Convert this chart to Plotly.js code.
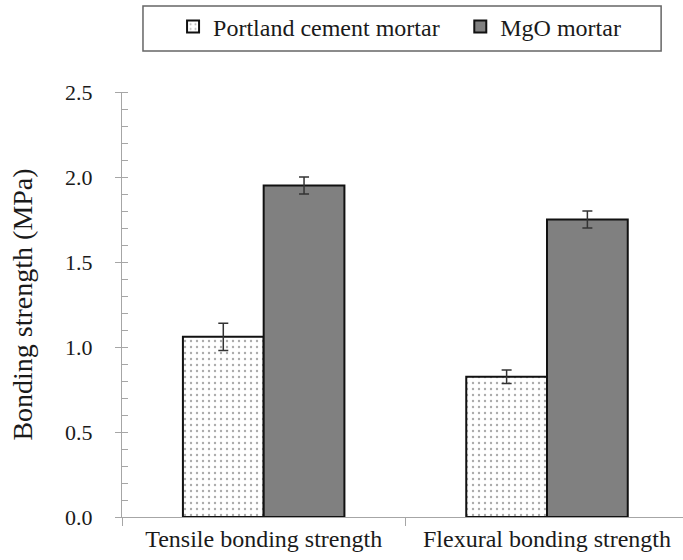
<!DOCTYPE html>
<html>
<head>
<meta charset="utf-8">
<script src="https://cdn.plot.ly/plotly-3.0.1.min.js"></script>
<style>html,body{margin:0;padding:0;background:#fff;}#chart{width:683px;height:560px;}</style>
</head>
<body>
<div id="chart"></div>
<script>
var categories = ["Tensile bonding strength", "Flexural bonding strength"];
var seriesNames = ["Portland cement mortar", "MgO mortar"];
var portlandValues = [1.06, 0.825];
var portlandErrors = [0.08, 0.04];
var mgoValues = [1.95, 1.75];
var mgoErrors = [0.05, 0.05];
var yTickValues = [0, 0.5, 1.0, 1.5, 2.0, 2.5];
var yTickLabels = ["0.0", "0.5", "1.0", "1.5", "2.0", "2.5"];

var FONT = "Liberation Serif";
var TXT = "#1a1a1a";
var AXIS_GRAY = "#a6a6a6";

var traces = [
  {
    type: "bar", name: seriesNames[0], x: categories, y: portlandValues, legend: "legend",
    error_y: {type: "data", array: portlandErrors, visible: true, color: "#333", thickness: 1.5, width: 5},
    marker: {color: "#ffffff", line: {color: "#111", width: 2},
             pattern: {shape: ".", fgcolor: "#ababab", bgcolor: "#ffffff", size: 6, solidity: 0.12}}
  },
  {
    type: "bar", name: seriesNames[1], x: categories, y: mgoValues, legend: "legend2",
    error_y: {type: "data", array: mgoErrors, visible: true, color: "#333", thickness: 1.5, width: 5},
    marker: {color: "#808080", line: {color: "#111", width: 2}}
  },
  {
    type: "scatter", x: categories, y: [null, null], yaxis: "y2", showlegend: false, hoverinfo: "skip"
  }
];

var legendCommon = {orientation: "h", xanchor: "left", y: 1.153, yanchor: "middle",
  font: {family: FONT, size: 24, color: TXT}, borderwidth: 0, bgcolor: "rgba(0,0,0,0)"};

var layout = {
  width: 683, height: 560,
  margin: {l: 122, r: 0, t: 92, b: 43},
  paper_bgcolor: "#fff", plot_bgcolor: "#fff",
  font: {family: FONT, size: 22, color: TXT},
  barmode: "group", bargap: 0.43, bargroupgap: 0,
  showlegend: true,
  legend: Object.assign({}, legendCommon, {x: 0.091}),
  legend2: Object.assign({}, legendCommon, {x: 0.603}),
  shapes: [{type: "rect", xref: "paper", yref: "paper", x0: 0.0374, x1: 0.961, y0: 1.0965, y1: 1.2024,
            line: {color: "#666", width: 1.5}, fillcolor: "rgba(0,0,0,0)", layer: "below"}],
  xaxis: {
    type: "category", range: [-0.5, 1.48], showgrid: false, zeroline: false,
    showline: true, linecolor: AXIS_GRAY, linewidth: 1,
    ticks: "outside", tickson: "boundaries", ticklen: 8, tickcolor: AXIS_GRAY,
    tickfont: {family: FONT, size: 24, color: TXT}
  },
  yaxis: {
    range: [0, 2.5], showgrid: false, zeroline: false,
    showline: true, linecolor: AXIS_GRAY, linewidth: 1,
    tickvals: yTickValues, ticktext: yTickLabels,
    ticks: "outside", ticklen: 6, tickcolor: AXIS_GRAY, ticklabelstandoff: 18,
    minor: {ticks: "inside", dtick: 0.1, ticklen: 6, tickcolor: AXIS_GRAY, showgrid: false},
    tickfont: {family: FONT, size: 22, color: TXT},
    title: {text: "Bonding strength (MPa)", font: {family: FONT, size: 28, color: TXT}, standoff: 24}
  },
  yaxis2: {
    overlaying: "y", matches: "y", range: [0, 2.5], showgrid: false, zeroline: false,
    showline: false, tickvals: yTickValues, ticks: "inside", ticklen: 6, tickcolor: AXIS_GRAY,
    showticklabels: false, side: "left"
  }
};

Plotly.newPlot("chart", traces, layout, {displayModeBar: false, staticPlot: true});
</script>
</body>
</html>
